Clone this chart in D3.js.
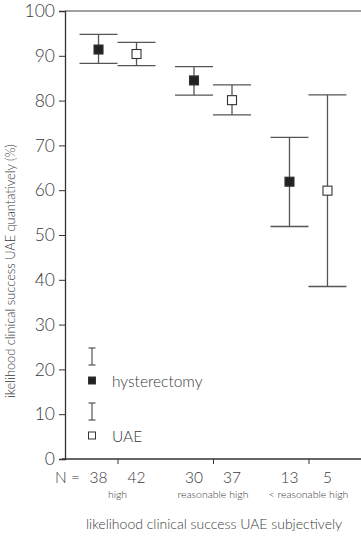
<!DOCTYPE html>
<html>
<head>
<meta charset="utf-8">
<script src="https://cdn.jsdelivr.net/npm/d3@7"></script>
<style>
  body { margin: 0; background: #fff; }
  text { font-family: "Lato", "Open Sans", sans-serif; font-weight: 300; fill: #3a3a3a; }
</style>
</head>
<body>
<div id="chart"></div>
<script>
// data
const categories = ["high", "reasonable high", "< reasonable high"];
const series = ["hysterectomy", "UAE"];
const hystMean = [91.4, 84.5, 61.9];
const hystLow = [88.3, 81.2, 51.9];
const hystHigh = [94.8, 87.6, 71.8];
const uaeMean = [90.4, 80.1, 59.9];
const uaeLow = [87.8, 76.8, 38.5];
const uaeHigh = [93.0, 83.5, 81.3];
const hystN = [38, 30, 13];
const uaeN = [42, 37, 5];
const yTicks = [0, 10, 20, 30, 40, 50, 60, 70, 80, 90, 100];

const W = 361, H = 537;
const margin = {top: 11, right: 0, bottom: 78, left: 65};
const width = W - margin.left - margin.right,
  height = H - margin.top - margin.bottom;

const svg = d3.select("#chart")
  .append("svg")
    .attr("width", W)
    .attr("height", H)
  .append("g")
    .attr("transform", `translate(${margin.left},${margin.top})`);

const x = d3.scalePoint()
  .domain(categories)
  .range([0, width])
  .padding(0.55);

const y = d3.scaleLinear()
  .domain([0, 100])
  .range([height, 0]);

const off = {hysterectomy: -19, UAE: 19};

// frame: top line, left axis, bottom axis
svg.append("line")
  .attr("x1", 0).attr("x2", width)
  .attr("y1", 0).attr("y2", 0)
  .attr("stroke", "#444").attr("stroke-width", 1.2);

const yAxis = svg.append("g")
  .call(d3.axisLeft(y).tickValues(yTicks).tickSize(6).tickPadding(4));
yAxis.select(".domain").attr("stroke", "#333").attr("stroke-width", 1.3);
yAxis.selectAll(".tick line").attr("stroke", "#333");
yAxis.selectAll("text")
  .style("font-size", "17.5px")
  .attr("fill", "#3a3a3a");

const xAxis = svg.append("g")
  .attr("transform", `translate(0,${height})`)
  .call(d3.axisBottom(x).tickSize(5).tickFormat(""));
xAxis.select(".domain")
  .attr("d", `M-3,0H${width}`)
  .attr("stroke", "#333").attr("stroke-width", 1.3);
xAxis.selectAll(".tick line").attr("stroke", "#333");

// rows of records for drawing
const rows = [];
categories.forEach((c, i) => {
  rows.push({cat: c, s: "hysterectomy", m: hystMean[i], lo: hystLow[i], hi: hystHigh[i], n: hystN[i]});
  rows.push({cat: c, s: "UAE", m: uaeMean[i], lo: uaeLow[i], hi: uaeHigh[i], n: uaeN[i]});
});

const cx = d => x(d.cat) + off[d.s];
const capW = 19;

const g = svg.selectAll(".bar")
  .data(rows)
  .join("g")
    .attr("class", "bar");

g.append("line")
  .attr("x1", cx).attr("x2", cx)
  .attr("y1", d => y(d.lo)).attr("y2", d => y(d.hi))
  .attr("stroke", "#555").attr("stroke-width", 1.3);
g.append("line")
  .attr("x1", d => cx(d) - capW).attr("x2", d => cx(d) + capW)
  .attr("y1", d => y(d.hi)).attr("y2", d => y(d.hi))
  .attr("stroke", "#555").attr("stroke-width", 1.3);
g.append("line")
  .attr("x1", d => cx(d) - capW).attr("x2", d => cx(d) + capW)
  .attr("y1", d => y(d.lo)).attr("y2", d => y(d.lo))
  .attr("stroke", "#555").attr("stroke-width", 1.3);
g.append("rect")
  .attr("x", d => cx(d) - 4.5).attr("y", d => y(d.m) - 4.5)
  .attr("width", 9).attr("height", 9)
  .attr("fill", d => d.s === "UAE" ? "#fff" : "#222")
  .attr("stroke", "#333").attr("stroke-width", 1.1);

// N labels under the points
svg.append("text")
  .attr("x", -10).attr("y", height + 24)
  .style("font-size", "15.5px")
  .text("N =");
svg.selectAll(".nlab")
  .data(rows)
  .join("text")
    .attr("class", "nlab")
    .attr("x", cx)
    .attr("y", height + 24)
    .attr("text-anchor", "middle")
    .style("font-size", "15.5px")
    .text(d => d.n);

svg.selectAll(".catlab")
  .data(categories)
  .join("text")
    .attr("class", "catlab")
    .attr("x", d => x(d))
    .attr("y", height + 39)
    .attr("text-anchor", "middle")
    .style("font-size", "10.5px")
    .text(d => d);

svg.append("text")
  .attr("x", 149).attr("y", height + 70)
  .attr("text-anchor", "middle")
  .style("font-size", "14px")
  .text("likelihood clinical success UAE subjectively");

svg.append("text")
  .attr("transform", `translate(${-50},${y(0) - 61}) rotate(-90)`)
  .attr("text-anchor", "start")
  .style("font-size", "12.8px")
  .text("ikelihood clinical success UAE quantatively (%)");

// legend
const lx = 27;
const leg = svg.selectAll(".leg")
  .data(series)
  .join("g")
    .attr("class", "leg")
    .attr("transform", (d, i) => `translate(${lx},${y(0) - 111 + i * 55})`);
leg.append("line")
  .attr("x1", 0).attr("x2", 0).attr("y1", 0).attr("y2", 17)
  .attr("stroke", "#555").attr("stroke-width", 1.2);
leg.append("line")
  .attr("x1", -3.5).attr("x2", 3.5).attr("y1", 0).attr("y2", 0)
  .attr("stroke", "#555").attr("stroke-width", 1.2);
leg.append("line")
  .attr("x1", -3.5).attr("x2", 3.5).attr("y1", 17).attr("y2", 17)
  .attr("stroke", "#555").attr("stroke-width", 1.2);
leg.append("rect")
  .attr("x", -3.5).attr("y", 29).attr("width", 7).attr("height", 7)
  .attr("fill", d => d === "UAE" ? "#fff" : "#222")
  .attr("stroke", "#333").attr("stroke-width", 1);
leg.append("text")
  .attr("x", 20).attr("y", 38.5)
  .style("font-size", "15.5px")
  .text(d => d);
</script>
</body>
</html>
